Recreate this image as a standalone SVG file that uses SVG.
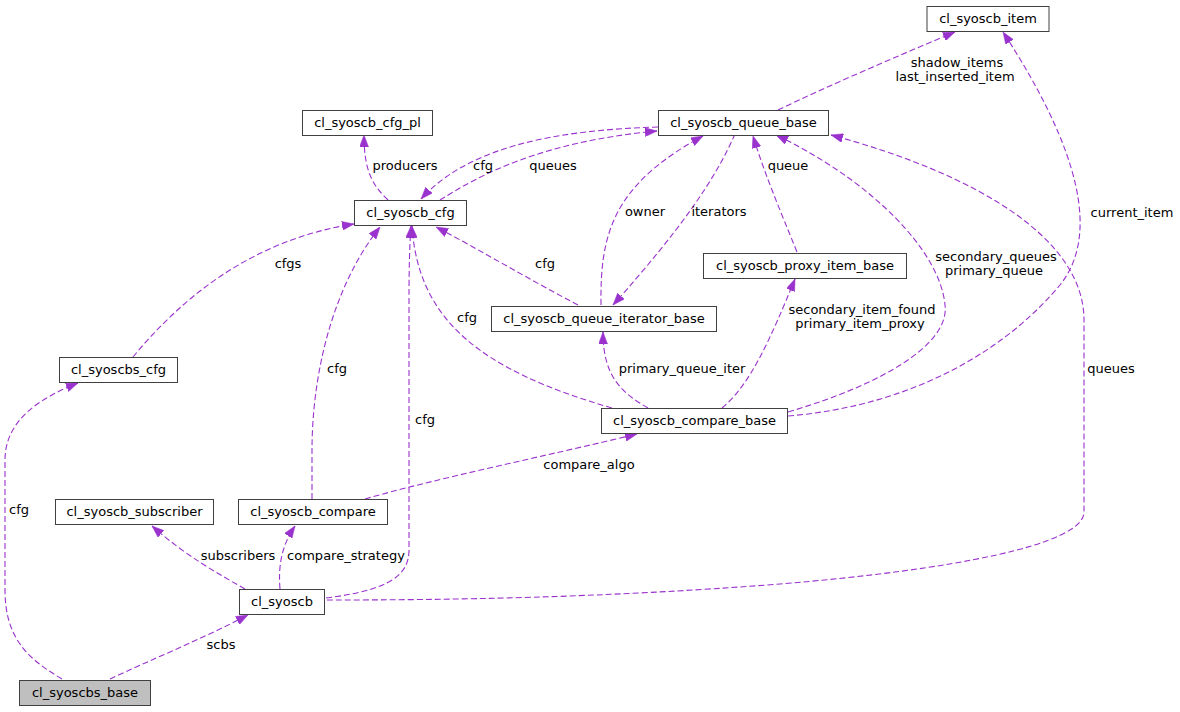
<svg xmlns="http://www.w3.org/2000/svg" width="1180" height="712" viewBox="0 0 1180 712">
<style>
.n rect{fill:#ffffff;stroke:#404040;stroke-width:1}
.n text,.lbl{font-family:"DejaVu Sans","Liberation Sans",sans-serif;font-size:13px;fill:#000000}
.n text{text-anchor:middle}
.lbl{text-anchor:middle}
.e path{fill:none;stroke:#9a32cd;stroke-width:1.1;stroke-dasharray:6,3;marker-end:url(#ah)}
</style>
<defs>
<marker id="ah" markerUnits="userSpaceOnUse" markerWidth="12" markerHeight="9" refX="12" refY="4.5" orient="auto">
<path d="M0,0 L12,4.5 L0,9 z" fill="#9a32cd" stroke="#9a32cd" stroke-width="0.5"/>
</marker>
</defs>
<rect width="1180" height="712" fill="#ffffff"/>
<g id="connectors" class="e">
<path d="M778,110 C830,85 900,55 955,32"/>
<path d="M788,416 C920,405 1010,345 1060,285 C1100,235 1080,150 1003,32"/>
<path d="M327,600 C450,600 600,598 780,584 C950,570 1084,545 1084,512 L1084,320 C1084,240 980,175 831,135"/>
<path d="M788,412 C880,385 950,345 945,305 C940,250 870,180 776,135"/>
<path d="M440,200 C480,175 540,142 657,131"/>
<path d="M658,127 C560,130 470,145 421,199"/>
<path d="M388,200 C372,185 364,170 364,135"/>
<path d="M601,305 C600,235 612,185 703,136"/>
<path d="M735,134 C715,180 680,230 613,305"/>
<path d="M797,252 C780,210 765,175 753,136"/>
<path d="M578,305 C530,280 480,250 436,227"/>
<path d="M612,408 C480,370 418,320 412,226"/>
<path d="M648,408 C620,392 603,375 603,332"/>
<path d="M722,408 C750,385 770,340 795,279"/>
<path d="M133,357 C180,300 250,240 354,224"/>
<path d="M312,499 L312,450 C312,380 330,290 380,227"/>
<path d="M326,598 C390,590 409,575 409,550 L409,300 C409,260 410,240 411,226"/>
<path d="M365,499 C430,480 550,455 637,434"/>
<path d="M245,589 C215,572 185,555 152,526"/>
<path d="M280,589 C278,565 282,545 295,526"/>
<path d="M110,679 C150,660 200,640 248,615"/>
<path d="M62,679 C30,660 5,640 5,590 L5,460 C5,420 40,398 78,383"/>
</g>
<g id="labels">
<text class="lbl" x="957" y="67">shadow_items</text>
<text class="lbl" x="955" y="81">last_inserted_item</text>
<text class="lbl" x="1132" y="217">current_item</text>
<text class="lbl" x="1111" y="373">queues</text>
<text class="lbl" x="996" y="261">secondary_queues</text>
<text class="lbl" x="994" y="275">primary_queue</text>
<text class="lbl" x="862" y="314">secondary_item_found</text>
<text class="lbl" x="860" y="328">primary_item_proxy</text>
<text class="lbl" x="788" y="170">queue</text>
<text class="lbl" x="645" y="216">owner</text>
<text class="lbl" x="719" y="216">iterators</text>
<text class="lbl" x="545" y="268">cfg</text>
<text class="lbl" x="553" y="170">queues</text>
<text class="lbl" x="483" y="170">cfg</text>
<text class="lbl" x="405" y="170">producers</text>
<text class="lbl" x="288" y="268">cfgs</text>
<text class="lbl" x="337" y="373">cfg</text>
<text class="lbl" x="467" y="322">cfg</text>
<text class="lbl" x="682" y="373">primary_queue_iter</text>
<text class="lbl" x="425" y="424">cfg</text>
<text class="lbl" x="589" y="469">compare_algo</text>
<text class="lbl" x="238" y="560">subscribers</text>
<text class="lbl" x="346" y="560">compare_strategy</text>
<text class="lbl" x="221" y="649">scbs</text>
<text class="lbl" x="19" y="514">cfg</text>
</g>
<g id="n_item" class="n"><rect x="927" y="6.5" width="122" height="25"/><text x="988" y="23">cl_syoscb_item</text></g>
<g id="n_queue_base" class="n"><rect x="658.5" y="110.5" width="170" height="25"/><text x="743.5" y="127">cl_syoscb_queue_base</text></g>
<g id="n_cfg_pl" class="n"><rect x="302.5" y="110.5" width="130" height="25"/><text x="367.5" y="127">cl_syoscb_cfg_pl</text></g>
<g id="n_cfg" class="n"><rect x="354.5" y="200.5" width="112" height="25"/><text x="410.5" y="217">cl_syoscb_cfg</text></g>
<g id="n_proxy" class="n"><rect x="703.5" y="253.5" width="203" height="25"/><text x="805" y="270">cl_syoscb_proxy_item_base</text></g>
<g id="n_iter" class="n"><rect x="491.5" y="306.5" width="225" height="25"/><text x="604" y="323">cl_syoscb_queue_iterator_base</text></g>
<g id="n_scbs_cfg" class="n"><rect x="59.5" y="357.5" width="118" height="25"/><text x="118.5" y="374">cl_syoscbs_cfg</text></g>
<g id="n_compare_base" class="n"><rect x="601.5" y="408.5" width="186" height="25"/><text x="694.5" y="425">cl_syoscb_compare_base</text></g>
<g id="n_subscriber" class="n"><rect x="55.5" y="499.5" width="158" height="25"/><text x="134.5" y="516">cl_syoscb_subscriber</text></g>
<g id="n_compare" class="n"><rect x="238.5" y="499.5" width="149" height="25"/><text x="313" y="516">cl_syoscb_compare</text></g>
<g id="n_syoscb" class="n"><rect x="239.5" y="589.5" width="85" height="25"/><text x="282" y="606">cl_syoscb</text></g>
<g id="n_scbs_base" class="n"><rect x="19.5" y="680.5" width="131" height="25" style="fill:#bfbfbf"/><text x="85" y="697">cl_syoscbs_base</text></g>
</svg>
